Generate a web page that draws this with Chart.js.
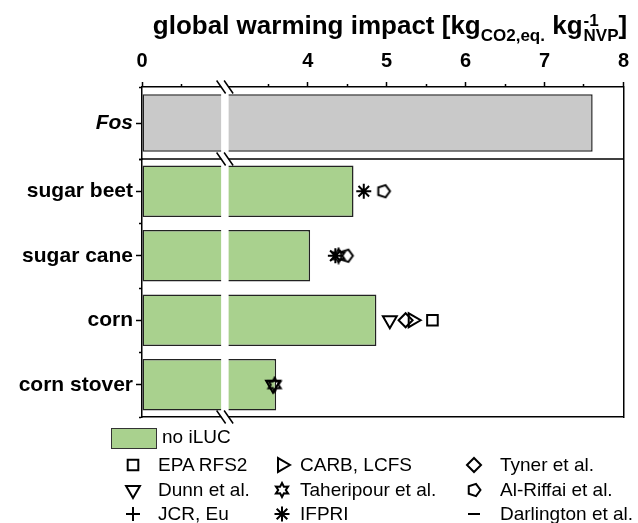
<!DOCTYPE html>
<html>
<head>
<meta charset="utf-8">
<script src="https://cdn.jsdelivr.net/npm/chart.js@4.4.1/dist/chart.umd.min.js"></script>
<style>
  html, body { margin: 0; padding: 0; background: #fff; }
  #wrap { position: relative; width: 638px; height: 523px; font-family: "Liberation Sans", Arial, sans-serif; color: #000; }
  #wrap canvas { position: absolute; left: 0; top: 0; }
  #title { position: absolute; left: 0; top: 10px; width: 638px; padding-left: 142px; box-sizing: border-box;
           text-align: center; font-weight: bold; font-size: 26px; line-height: 30px; white-space: nowrap; }
  #title .lo { font-size: 17px; vertical-align: -7px; }
  #title .supsub { display: inline-block; font-size: 17px; line-height: 15px; vertical-align: -7px; text-align: left; margin-left: 1px; }
  #title .supsub span { display: block; }
  .lg { position: absolute; font-size: 19px; line-height: 20px; white-space: nowrap; }
  .lg-mark { position: absolute; }
  #lgBox { position: absolute; left: 111px; top: 428px; width: 44px; height: 19px; background: #a9d18e; border: 1px solid #333; }
</style>
</head>
<body>
<div id="wrap">
  <canvas id="gwiChart" width="638" height="523"></canvas>
  <div id="title">global warming impact [kg<span class="lo">CO2,eq.</span> kg<span class="supsub"><span>-1</span><span>NVP</span></span>]</div>
  <div id="lgBox"></div>
  <div class="lg" style="left:162px; top:427px;">no iLUC</div>
</div>
<script>
// --- データ ---
const fossil = ['Fos'];
const fossilValue = [7.61];

const biofuels = ['sugar beet', 'sugar cane', 'corn', 'corn stover'];
const noILUC = [4.58, 4.03, 4.87, 3.60];

// 各研究の iLUC 込みの値 (biofuels と同じ順)
const epaRfs2    = [null, null, 5.58, null];
const carbLcfs   = [null, null, 5.33, null];
const tyner      = [null, null, 5.24, null];
const dunn       = [null, null, 5.04, 3.56];
const taheripour = [null, 4.39, null, 3.58];
const alRiffai   = [4.96, 4.49, null, null];
const jcrEu      = [null, null, null, null];
const ifpri      = [4.71, 4.35, null, null];
const darlington = [null, null, null, null];

// x軸の目盛り
const xTicks = [0, 0.5, 3.5, 4, 4.5, 5, 5.5, 6, 6.5, 7, 7.5, 8];
const xTickLabels = [0, 4, 5, 6, 7, 8];

// 軸の省略区間 (1.05 〜 2.95 を飛ばす)
const BREAK_FROM = 1.05;
const BREAK_TO = 2.95;

// --- 省略付きの線形スケール ---
class BrokenLinearScale extends Chart.LinearScale {
    static id = 'brokenLinear';
    static defaults = Chart.LinearScale.defaults;
    getPixelForValue(value) {
        if (value === null || isNaN(value)) return NaN;
        const gap = BREAK_TO - BREAK_FROM;
        const d = value <= BREAK_FROM ? value : (value >= BREAK_TO ? value - gap : BREAK_FROM);
        return this.getPixelForDecimal((d - this.min) / (this.max - gap - this.min));
    }
    getValueForPixel(pixel) {
        const gap = BREAK_TO - BREAK_FROM;
        const d = this.min + this.getDecimalForPixel(pixel) * (this.max - gap - this.min);
        return d <= BREAK_FROM ? d : d + gap;
    }
}
Chart.register(BrokenLinearScale);

// --- マーカー画像 (五角形・六芒星) ---
function makeMarker(pathFn) {
    const c = document.createElement('canvas');
    c.width = 18; c.height = 18;
    const g = c.getContext('2d');
    g.strokeStyle = '#000';
    g.lineWidth = 2;
    g.beginPath();
    pathFn(g, 9, 9);
    g.closePath();
    g.stroke();
    return c;
}
const pentagonMarker = makeMarker((g, cx, cy) => {
    for (let k = 0; k < 5; k++) {
        const a = k * 2 * Math.PI / 5;
        const x = cx + 6.5 * Math.cos(a), y = cy + 6.5 * Math.sin(a);
        k === 0 ? g.moveTo(x, y) : g.lineTo(x, y);
    }
});
const hexStarMarker = makeMarker((g, cx, cy) => {
    for (let k = 0; k < 12; k++) {
        const a = -Math.PI / 2 + k * Math.PI / 6;
        const r = k % 2 === 0 ? 7 : 3.8;
        const x = cx + r * Math.cos(a), y = cy + r * Math.sin(a);
        k === 0 ? g.moveTo(x, y) : g.lineTo(x, y);
    }
});

// 凡例の並び順 (3列)
const studies = [
    { label: 'EPA RFS2',          values: epaRfs2,    style: 'rect',          rotation: 0,   radius: 7.5 },
    { label: 'CARB, LCFS',        values: carbLcfs,   style: 'triangle',      rotation: 90,  radius: 8 },
    { label: 'Tyner et al.',      values: tyner,      style: 'rectRot',       rotation: 0,   radius: 7 },
    { label: 'Dunn et al.',       values: dunn,       style: 'triangle',      rotation: 180, radius: 8 },
    { label: 'Taheripour et al.', values: taheripour, style: hexStarMarker,   rotation: 0,   radius: 7 },
    { label: 'Al-Riffai et al.',  values: alRiffai,   style: pentagonMarker,  rotation: 0,   radius: 7 },
    { label: 'JCR, Eu',           values: jcrEu,      style: 'cross',         rotation: 0,   radius: 7 },
    { label: 'IFPRI',             values: ifpri,      style: 'star',          rotation: 0,   radius: 7.5 },
    { label: 'Darlington et al.', values: darlington, style: 'dash',          rotation: 0,   radius: 12 }
];

// マーカーは棒の上に描く (order が小さいほど手前)
const studyDatasets = studies.map(s => ({
    type: 'scatter',
    label: s.label,
    order: 0,
    xAxisID: 'x',
    yAxisID: 'yBio',
    data: biofuels.map((c, i) => s.values[i] == null ? null : { x: s.values[i], y: c }).filter(p => p),
    pointStyle: s.style,
    pointRotation: s.rotation,
    pointRadius: s.radius,
    pointBorderWidth: 2,
    borderColor: '#000',
    backgroundColor: 'rgba(0,0,0,0)',
    pointBorderColor: '#000',
    pointBackgroundColor: 'rgba(0,0,0,0)'
}));

// カテゴリ軸の目盛り (中心と境界)
function halfTicks(n) {
    const t = [];
    for (let v = -0.5; v <= n - 0.5; v += 0.5) t.push({ value: v });
    return t;
}
const isMinor = c => c.tick && !Number.isInteger(c.tick.value);

function categoryAxis(labels, weight, italic) {
    return {
        type: 'category',
        labels: labels,
        position: 'left',
        stack: 'cats',
        stackWeight: weight,
        offset: true,
        grid: {
            display: true, drawOnChartArea: false, offset: false,
            tickLength: 6, tickWidth: 1.5, tickColor: '#000',
            tickBorderDash: c => isMinor(c) ? [3, 20] : [],
            tickBorderDashOffset: c => isMinor(c) ? 20 : 0
        },
        border: { color: '#000', width: 1.5 },
        ticks: {
            autoSkip: false, padding: 3, color: '#000',
            font: { size: 21, weight: 'bold', style: italic ? 'italic' : 'normal' },
            callback: v => Number.isInteger(v) ? labels[v] : ''
        },
        afterBuildTicks: s => { s.ticks = halfTicks(labels.length); },
        afterFit: s => { s.width = 142; }
    };
}

// 軸の省略マークと仕切り線
const axisBreakPlugin = {
    id: 'axisBreak',
    afterDraw(chart) {
        const { ctx, chartArea, scales } = chart;
        const px = scales.x.getPixelForValue(BREAK_FROM);
        const sepY = scales.yFos.bottom;
        ctx.save();
        ctx.strokeStyle = '#000';
        ctx.lineWidth = 1.5;
        ctx.beginPath();
        ctx.moveTo(chartArea.left, sepY);
        ctx.lineTo(chartArea.right, sepY);
        ctx.stroke();
        ctx.fillStyle = '#fff';
        ctx.fillRect(px - 3.75, chartArea.top - 6, 7.5, chartArea.bottom - chartArea.top + 12);
        ctx.beginPath();
        [chartArea.top, sepY, chartArea.bottom].forEach(y => {
            [-3.75, 3.75].forEach(dx => {
                ctx.moveTo(px + dx - 4.5, y - 6.5);
                ctx.lineTo(px + dx + 4.5, y + 6.5);
            });
        });
        ctx.stroke();
        ctx.restore();
    }
};

Chart.defaults.font.family = '"Liberation Sans", Arial, sans-serif';
Chart.defaults.color = '#000';

// 半目盛りを入れているので棒の基準幅が半分になる → barPercentage 1.6 で 0.8 相当
const chart = new Chart(document.getElementById('gwiChart'), {
    type: 'bar',
    data: {
        datasets: [
            {
                label: 'Fos',
                data: fossilValue,
                yAxisID: 'yFos',
                order: 1,
                backgroundColor: '#c9c9c9',
                borderColor: '#222',
                borderWidth: 1.5,
                borderSkipped: false,
                grouped: false,
                barPercentage: 1.6,
                categoryPercentage: 1
            },
            {
                label: 'no iLUC',
                data: noILUC,
                yAxisID: 'yBio',
                order: 1,
                backgroundColor: '#a9d18e',
                borderColor: '#222',
                borderWidth: 1.5,
                borderSkipped: false,
                grouped: false,
                barPercentage: 1.6,
                categoryPercentage: 1
            },
            ...studyDatasets
        ]
    },
    options: {
        indexAxis: 'y',
        responsive: false,
        animation: false,
        events: [],
        layout: { padding: { left: 0, right: 8, top: 0, bottom: 106 } },
        plugins: { legend: { display: false }, tooltip: { enabled: false }, title: { display: false } },
        scales: {
            x: {
                type: 'brokenLinear',
                position: 'top',
                min: 0,
                max: 8,
                grid: {
                    display: true, drawOnChartArea: false,
                    tickLength: 5, tickWidth: 1.5, tickColor: '#000',
                    tickBorderDash: c => (c.tick && !xTickLabels.includes(c.tick.value)) ? [3, 20] : [],
                    tickBorderDashOffset: c => (c.tick && !xTickLabels.includes(c.tick.value)) ? 21 : 0
                },
                border: { color: '#000', width: 1.5 },
                ticks: {
                    autoSkip: false, maxRotation: 0, padding: 9, color: '#000',
                    font: { size: 20, weight: 'bold' },
                    callback: v => xTickLabels.includes(v) ? String(v) : ''
                },
                afterBuildTicks: s => { s.ticks = xTicks.map(v => ({ value: v })); },
                afterFit: s => { s.height = 87; }
            },
            xBottom: {
                type: 'linear',
                position: 'bottom',
                min: 0,
                max: 8,
                grid: { display: false },
                border: { color: '#000', width: 1.5 },
                ticks: { display: false },
                afterFit: s => { s.height = 0; }
            },
            yFos: Object.assign(categoryAxis(fossil, 72, true), { weight: 1 }),
            yBio: Object.assign(categoryAxis(biofuels, 258, false), { weight: 0 }),
            yRight: {
                type: 'linear',
                position: 'right',
                grid: { display: false },
                border: { color: '#000', width: 1.5 },
                ticks: { display: false },
                afterFit: s => { s.width = 0; }
            }
        }
    },
    plugins: [axisBreakPlugin]
});

// --- 凡例 (3列のグリッド) ---
const wrap = document.getElementById('wrap');
const markX = [133, 282, 474];
const textX = [158, 300, 500];
const rowY = [465, 490, 514];
studies.forEach((s, i) => {
    const col = i % 3, row = Math.floor(i / 3);
    const mc = document.createElement('canvas');
    mc.width = 24; mc.height = 20;
    mc.className = 'lg-mark';
    mc.style.left = (markX[col] - 12) + 'px';
    mc.style.top = (rowY[row] - 10) + 'px';
    const g = mc.getContext('2d');
    g.strokeStyle = '#000';
    g.fillStyle = 'rgba(0,0,0,0)';
    g.lineWidth = 2;
    // dash は中心から右にだけ伸びるので左へずらす
    const cx = s.style === 'dash' ? 12 - s.radius / 2 : 12;
    Chart.helpers.drawPoint(g, { pointStyle: s.style, rotation: s.rotation, radius: s.radius, borderWidth: 2 }, cx, 10);
    wrap.appendChild(mc);
    const t = document.createElement('div');
    t.className = 'lg';
    t.textContent = s.label;
    t.style.left = textX[col] + 'px';
    t.style.top = (rowY[row] - 10) + 'px';
    wrap.appendChild(t);
});
</script>
</body>
</html>
